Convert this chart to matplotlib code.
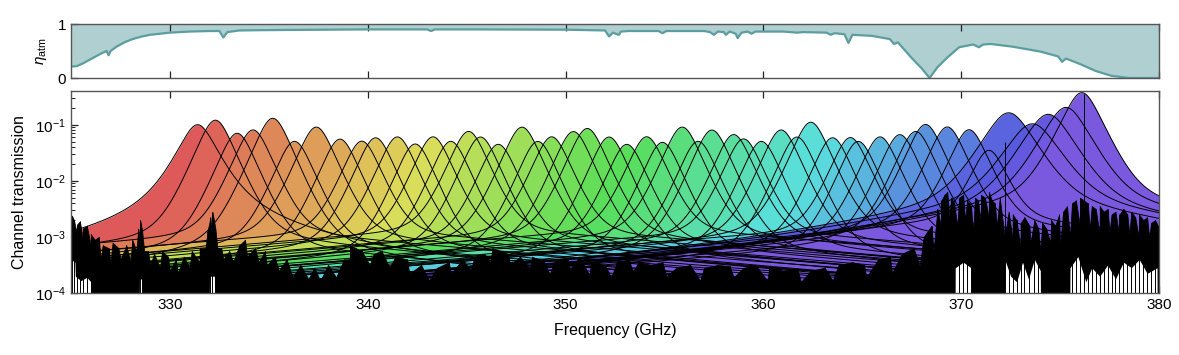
import numpy as np
import matplotlib
matplotlib.use('Agg')
import matplotlib.pyplot as plt
from matplotlib.colors import hsv_to_rgb
from matplotlib.ticker import LogLocator, NullFormatter, FixedLocator

plt.rcParams['font.family'] = ['Liberation Sans', 'DejaVu Sans']
plt.rcParams['mathtext.fontset'] = 'custom'
plt.rcParams['mathtext.rm'] = 'Liberation Sans'
plt.rcParams['mathtext.it'] = 'Liberation Sans:italic'
plt.rcParams['mathtext.bf'] = 'Liberation Sans:bold'

# ---------------- data ----------------
atm_freq = [325.0, 325.3, 325.6, 326.0, 326.5, 326.8, 326.9, 327.0, 327.3, 327.7,
            328.1, 328.6, 329.0, 329.5, 330.0, 331.0, 332.0, 332.5, 332.7, 332.9,
            333.5, 334.5, 336.0, 338.0, 340.0, 343.0, 343.2, 343.4, 345.0, 350.0,
            352.0, 352.2, 352.4, 352.6, 352.7, 352.8, 353.2, 354.7, 354.9, 355.1,
            357.0, 357.3, 357.5, 357.7, 358.0, 358.1, 358.3, 358.6, 358.7, 358.9,
            359.2, 359.4, 359.6, 361.0, 361.7, 362.0, 363.2, 363.4, 363.6, 364.1,
            364.3, 364.5, 365.5, 366.4, 366.6, 366.8, 367.5, 368.0, 368.4, 368.8,
            369.3, 369.9, 370.6, 370.9, 371.1, 371.5, 372.6, 374.0, 374.9, 375.1,
            375.3, 376.0, 376.8, 377.6, 378.5, 380.0]
atm_eta = [0.21, 0.22, 0.27, 0.35, 0.45, 0.50, 0.42, 0.50, 0.58, 0.66,
           0.72, 0.77, 0.80, 0.82, 0.84, 0.86, 0.87, 0.87, 0.75, 0.85,
           0.88, 0.885, 0.89, 0.895, 0.90, 0.90, 0.87, 0.90, 0.90, 0.895,
           0.88, 0.77, 0.84, 0.81, 0.80, 0.86, 0.87, 0.87, 0.83, 0.87,
           0.87, 0.85, 0.80, 0.86, 0.85, 0.80, 0.86, 0.82, 0.74, 0.84,
           0.86, 0.82, 0.86, 0.86, 0.84, 0.85, 0.84, 0.80, 0.83, 0.81,
           0.65, 0.80, 0.78, 0.72, 0.63, 0.66, 0.37, 0.18, 0.0, 0.20,
           0.38, 0.57, 0.62, 0.57, 0.62, 0.63, 0.58, 0.49, 0.40, 0.30,
           0.36, 0.26, 0.13, 0.04, 0.0, 0.0]

chan_center = [331.4, 332.3, 333.4, 334.2, 335.2, 336.3, 337.4, 338.6, 339.7, 340.4,
               341.5, 342.4, 343.3, 344.2, 345.1, 345.7, 346.6, 347.8, 348.6, 349.3,
               350.4, 351.1, 352.2, 353.1, 354.1, 354.9, 355.9, 356.7, 357.4, 358.5,
               359.0, 359.9, 360.9, 361.7, 362.4, 363.5, 364.4, 364.8, 365.9, 366.9,
               367.7, 368.2, 369.3, 370.4, 371.4, 372.4, 373.6, 374.4, 375.3, 376.1]
chan_peak = [0.10, 0.12, 0.07, 0.08, 0.13, 0.05, 0.09, 0.055, 0.05, 0.058,
             0.06, 0.045, 0.06, 0.05, 0.075, 0.06, 0.044, 0.09, 0.05, 0.06,
             0.075, 0.085, 0.06, 0.044, 0.06, 0.048, 0.09, 0.05, 0.08, 0.066,
             0.055, 0.05, 0.08, 0.06, 0.11, 0.058, 0.058, 0.05, 0.06, 0.066,
             0.075, 0.10, 0.09, 0.08, 0.033, 0.16, 0.10, 0.15, 0.20, 0.37]
# core width (GHz), wing fraction and wing width (GHz) of each channel
chan_core = [0.5] * 45 + [0.7, 0.75, 0.7, 0.65, 0.55]
chan_wing = [0.25] + [0.1] * 44 + [0.15] * 5
chan_wing_width = [2.5] + [1.5] * 44 + [2.0, 2.0, 1.8, 1.6, 1.4]
# out-of-band (broad) level and width of each channel
chan_floor = [4e-4, 7e-4, 5e-4, 9e-4, 3.5e-4, 6e-4, 8e-4, 4.5e-4, 1.0e-3, 5.5e-4,
              7e-4, 4e-4, 9e-4, 6e-4, 1.1e-3, 5e-4, 8e-4, 6.5e-4, 4.5e-4, 1.0e-3,
              5.5e-4, 8.5e-4, 4e-4, 7e-4, 1.1e-3, 5e-4, 9e-4, 6e-4, 4.5e-4, 8e-4,
              1.0e-3, 5.5e-4, 7.5e-4, 4e-4, 9e-4, 6e-4, 1.1e-3, 5e-4, 8e-4, 6.5e-4,
              9e-4, 1.2e-3, 1.4e-3, 1.6e-3, 2e-3, 3.5e-3, 4e-3, 3.5e-3, 4e-3, 4e-3]
chan_floor_width = [30.0] * 40 + [25.0, 25.0, 20.0, 20.0, 18.0, 15.0, 15.0, 15.0, 15.0, 15.0]

# upper edge (log10) of the dense black noise floor
noise_freq = [325.0, 325.3, 325.6, 326.0, 326.5, 327.0, 327.5, 328.0, 328.3, 328.5,
              328.7, 329.0, 329.5, 330.0, 330.4, 331.0, 331.5, 331.8, 332.1, 332.4,
              332.7, 333.2, 333.9, 334.5, 334.9, 335.5, 336.2, 337.0, 337.6, 338.4,
              339.1, 340.1, 341.1, 342.1, 343.1, 344.2, 345.2, 346.2, 347.2, 348.2,
              349.2, 350.2, 351.2, 352.3, 353.4, 355.1, 356.8, 358.5, 360.2, 361.9,
              363.5, 365.2, 366.5, 367.9, 368.6, 369.0, 369.4, 369.8, 370.2, 370.6,
              371.0, 371.4, 371.8, 372.2, 372.6, 373.0, 373.5, 374.0, 374.5, 375.0,
              375.5, 376.0, 376.5, 377.0, 377.5, 378.0, 378.5, 379.0, 379.5, 380.0]
noise_top = [-2.80, -2.95, -3.05, -3.15, -3.40, -3.45, -3.40, -3.45, -3.25, -3.10,
             -3.25, -3.50, -3.55, -3.60, -3.65, -3.55, -3.45, -3.20, -2.90, -3.20,
             -3.40, -3.45, -3.35, -3.45, -3.50, -3.60, -3.72, -3.75, -3.78, -3.72,
             -3.40, -3.50, -3.55, -3.66, -3.78, -3.66, -3.60, -3.45, -3.50, -3.58,
             -3.66, -3.60, -3.68, -3.72, -3.62, -3.70, -3.78, -3.72, -3.78, -3.80,
             -3.78, -3.72, -3.65, -3.52, -3.25, -2.85, -2.65, -2.80, -2.70, -2.90,
             -2.75, -2.65, -2.80, -3.00, -3.05, -3.20, -3.10, -3.25, -3.10, -3.15,
             -3.00, -2.80, -2.85, -2.95, -2.90, -3.00, -2.95, -3.05, -3.00, -3.10]

# individual noise spikes (frequency, log10 of spike top)
spike_freq = [325.05, 325.15, 325.3, 325.45, 325.6, 325.8, 326.0, 326.2, 326.4, 326.6,
              326.9, 327.1, 327.4, 327.8, 328.1, 328.4, 328.5, 328.6, 328.9, 329.2,
              329.6, 329.9, 330.3, 330.7, 331.1, 331.5, 331.9, 332.05, 332.15, 332.3,
              332.6, 333.0, 333.5, 333.8, 334.3, 334.8, 335.3, 335.9, 336.6, 337.3,
              338.0, 338.8, 339.1, 339.4, 339.7, 340.3, 340.7, 341.4, 342.0, 342.7,
              343.5, 344.1, 344.8, 345.4, 345.9, 346.3, 346.7, 347.1, 347.7, 348.3,
              348.9, 349.5, 350.1, 350.7, 351.3, 352.0, 352.6, 353.2, 353.7, 354.3,
              354.9, 355.6, 356.3, 357.0, 357.7, 358.3, 359.0, 359.6, 360.3, 361.0,
              361.7, 362.4, 363.1, 363.8, 364.5, 365.1, 365.8, 366.4, 367.0, 367.6,
              368.1, 368.5, 368.8, 369.0, 369.15, 369.3, 369.5, 369.65, 369.9, 370.1,
              370.3, 370.5, 370.7, 370.85, 371.0, 371.2, 371.4, 371.55, 371.7, 371.95,
              372.2, 372.4, 372.6, 372.8, 373.0, 373.2, 373.45, 373.7, 373.9, 374.1,
              374.3, 374.55, 374.75, 374.95, 375.15, 375.35, 375.6, 375.8, 376.0, 376.2,
              376.4, 376.6, 376.8, 377.0, 377.2, 377.4, 377.6, 377.8, 378.0, 378.2,
              378.4, 378.6, 378.8, 379.0, 379.2, 379.4, 379.6, 379.8, 379.95]
spike_top = [-2.62, -2.70, -2.78, -2.72, -2.85, -2.80, -2.95, -3.05, -3.00, -3.15,
             -3.20, -3.10, -3.20, -3.15, -3.05, -2.85, -2.70, -2.90, -3.25, -3.30,
             -3.25, -3.35, -3.40, -3.35, -3.25, -3.20, -2.90, -2.65, -2.55, -2.85,
             -3.20, -3.25, -3.15, -3.05, -3.20, -3.25, -3.35, -3.40, -3.50, -3.55,
             -3.50, -3.40, -3.15, -3.20, -3.25, -3.30, -3.25, -3.35, -3.40, -3.50,
             -3.55, -3.45, -3.40, -3.35, -3.30, -3.20, -3.25, -3.30, -3.35, -3.35,
             -3.45, -3.40, -3.40, -3.35, -3.45, -3.50, -3.45, -3.40, -3.45, -3.50,
             -3.45, -3.55, -3.50, -3.55, -3.50, -3.52, -3.55, -3.50, -3.55, -3.60,
             -3.55, -3.60, -3.55, -3.50, -3.45, -3.50, -3.40, -3.35, -3.30, -3.20,
             -3.00, -2.80, -2.50, -2.35, -2.25, -2.20, -2.30, -2.40, -2.30, -2.25,
             -2.35, -2.45, -2.30, -2.35, -2.25, -2.30, -2.20, -2.35, -2.40, -2.30,
             -1.30, -2.55, -2.60, -2.70, -2.75, -2.65, -2.80, -2.70, -2.85, -2.75,
             -2.85, -2.70, -2.80, -2.60, -2.55, -2.45, -2.40, -2.35, -2.30, -0.45,
             -2.40, -2.45, -2.50, -2.45, -2.55, -2.50, -2.60, -2.55, -2.60, -2.50,
             -2.60, -2.55, -2.65, -2.60, -2.70, -2.65, -2.75, -2.70, -2.80]

# white gaps below the noise (frequency, log10 of gap top)
hole_freq = [325.0, 325.2, 325.22, 325.5, 325.8, 326.0, 326.02, 328.44, 328.46, 328.6, 328.62,
             331.98, 332.0, 332.25, 332.27, 369.68, 369.7, 370.1, 370.5, 370.52,
             372.18, 372.2, 372.5, 372.8, 373.1, 373.4, 373.7, 374.0, 374.02, 375.48, 375.5,
             375.9, 376.3, 376.6, 377.0, 377.4, 377.8, 378.2, 378.6, 379.0, 379.4, 379.9,
             379.92, 380.0]
hole_top = [-3.40, -3.45, -3.70, -3.78, -3.72, -3.80, -5.0, -5.0, -3.75, -3.75, -5.0,
            -5.0, -3.70, -3.70, -5.0, -5.0, -3.55, -3.45, -3.55, -5.0,
            -5.0, -3.40, -3.70, -3.80, -3.45, -3.75, -3.40, -3.60, -5.0, -5.0, -3.55,
            -3.35, -3.80, -3.55, -3.70, -3.50, -3.75, -3.45, -3.55, -3.40, -3.65, -3.55,
            -5.0, -5.0]

xticks = [330, 340, 350, 360, 370, 380]

# ---------------- figure ----------------
W, H = 1179, 355
fig = plt.figure(figsize=(W / 100, H / 100), dpi=100)
x0, x1 = 71, 1159
ax1 = fig.add_axes([x0 / W, 1 - 78 / H, (x1 - x0) / W, 54 / H])
ax2 = fig.add_axes([x0 / W, 1 - 293 / H, (x1 - x0) / W, 202 / H])

spine_col = '#555555'
for ax in (ax1, ax2):
    for s in ax.spines.values():
        s.set_color(spine_col)
        s.set_linewidth(1.0)
        s.set_zorder(10)
    ax.set_xlim(325, 380)
    ax.set_xticks(xticks)
    ax.tick_params(axis='both', which='both', direction='in', top=True, bottom=True,
                   right=False, labelsize=11, color='#222222')
    ax.tick_params(axis='both', which='major', length=5, width=0.9)
    ax.tick_params(axis='both', which='minor', length=3, width=0.7)

# top panel: atmospheric transmission
teal_fill = '#afcfd0'
teal_line = '#5c9ea0'
ax1.fill_between(atm_freq, atm_eta, 1.0, color=teal_fill, lw=0)
ax1.plot(atm_freq, atm_eta, color=teal_line, lw=1.6, solid_joinstyle='round')
ax1.set_ylim(0, 1)
ax1.set_yticks([0, 1])
ax1.set_yticklabels(['0', '1'])
ax1.tick_params(axis='x', labelbottom=False)
ax1.set_ylabel(r'$\eta_{\rm atm}$', fontsize=11, labelpad=6)

# bottom panel: channel transmissions
freq = np.linspace(325, 380, 2751)
n = len(chan_center)
curves = []
for i in range(n):
    d = freq - chan_center[i]
    t = chan_peak[i] * ((1 - chan_wing[i]) / np.cosh(d / chan_core[i])
                        + chan_wing[i] / (1 + (2 * d / chan_wing_width[i]) ** 2)) \
        + chan_floor[i] / (1 + (2 * d / chan_floor_width[i]) ** 2)
    curves.append(t)

for i in range(n):
    col = hsv_to_rgb((0.71 * i / (n - 1), 0.60, 0.87))
    ax2.fill_between(freq, 1e-5, curves[i], color=col, lw=0, zorder=1)

# noise floor: envelope nodes and the (short) spike tips joined into one jagged outline;
# the few very tall isolated spikes are drawn only as thin lines
edge_pts = sorted([(f, v) for f, v in zip(noise_freq, noise_top)] +
                  [(f, v) for f, v in zip(spike_freq, spike_top) if v < -2.0])
edge_f = [p[0] for p in edge_pts]
edge_v = [10.0 ** p[1] for p in edge_pts]
ax2.fill_between(edge_f, 1e-5, edge_v, color='black', lw=0.5, edgecolor='black', zorder=2)

for i in range(n):
    ax2.plot(freq, curves[i], color='black', lw=0.7, zorder=3)

ax2.fill_between(hole_freq, 1e-5, 10.0 ** np.array(hole_top), color='white', lw=0, zorder=4)
ax2.vlines(spike_freq, 1e-5, 10.0 ** np.array(spike_top), color='black', lw=0.7, zorder=5)

ax2.set_yscale('log')
ax2.set_ylim(1e-4, 0.4)
ax2.yaxis.set_major_locator(FixedLocator([1e-4, 1e-3, 1e-2, 1e-1]))
ax2.set_yticklabels([r'$10^{-4}$', r'$10^{-3}$', r'$10^{-2}$', r'$10^{-1}$'])
ax2.yaxis.set_minor_locator(LogLocator(base=10, subs=np.arange(2, 10)))
ax2.yaxis.set_minor_formatter(NullFormatter())
ax2.set_xticklabels([str(v) for v in xticks])
ax2.set_xlabel('Frequency (GHz)', fontsize=11.5, labelpad=8)
ax2.set_ylabel('Channel transmission', fontsize=11.5, labelpad=6)

fig.savefig('out.png', dpi=100)
